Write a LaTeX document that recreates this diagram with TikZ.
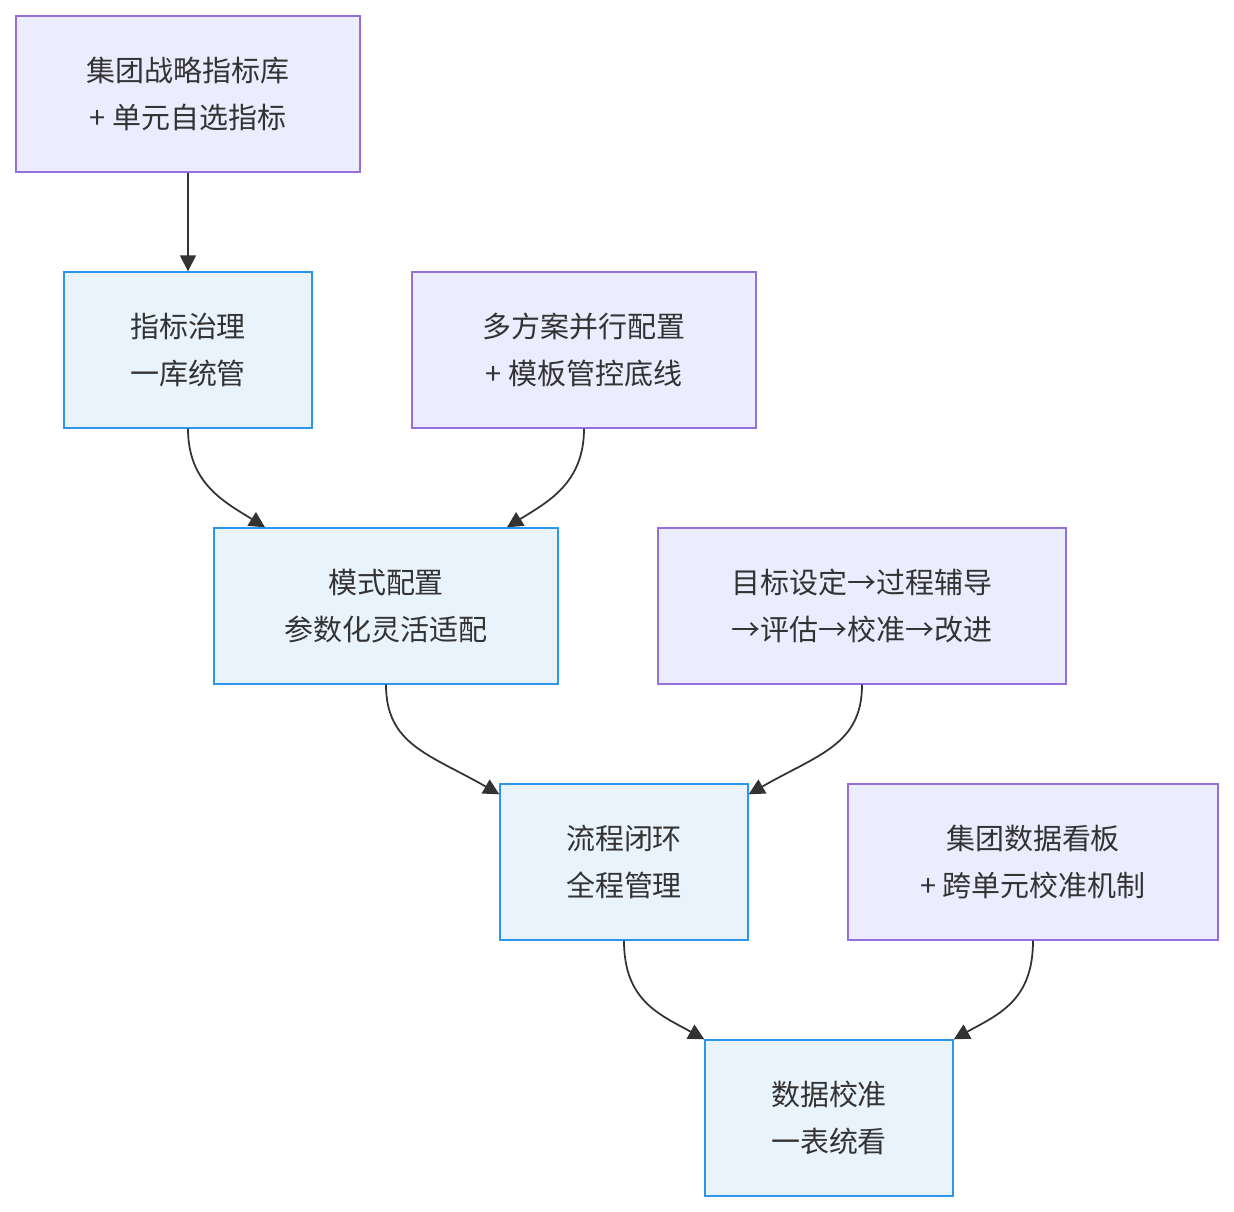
\documentclass[tikz,border=0pt]{standalone}
\usepackage{fontspec}
\setmainfont{Noto Sans CJK SC}
\usetikzlibrary{arrows.meta,positioning}
\definecolor{lilacfill}{HTML}{ECECFF}
\definecolor{lilacline}{HTML}{9370DB}
\definecolor{skyfill}{HTML}{E8F3FC}
\definecolor{skyline}{HTML}{2C96EC}
\definecolor{inkgrey}{HTML}{333333}

\tikzset{
	box/.style={draw,line width=0.8pt,minimum height=3.12cm,align=center,
		text=inkgrey,font=\fontsize{16.5}{27}\selectfont,inner sep=0pt},
	source/.style={box,fill=lilacfill,draw=lilacline},
	stage/.style={box,fill=skyfill,draw=skyline},
	flow/.style={draw=inkgrey,line width=1pt,-{Triangle[length=9pt,width=9pt]}}
}

\begin{document}
\begin{tikzpicture}[x=0.02cm,y=-0.02cm]
	\useasboundingbox (0,0) rectangle (1234,1212);
	% Nodes
	\node[source,minimum width=6.88cm] (lib) at (188,94) {集团战略指标库\\+ 单元自选指标};
	\node[stage,minimum width=4.96cm] (gov) at (188,350) {指标治理\\一库统管};
	\node[source,minimum width=6.88cm] (multi) at (584,350) {多方案并行配置\\+ 模板管控底线};
	\node[stage,minimum width=6.88cm] (mode) at (386,606) {模式配置\\参数化灵活适配};
	\node[source,minimum width=8.16cm] (cycle) at (862,606) {目标设定→过程辅导\\→评估→校准→改进};
	\node[stage,minimum width=4.96cm] (proc) at (624,862) {流程闭环\\全程管理};
	\node[source,minimum width=7.4cm] (board) at (1033,862) {集团数据看板\\+ 跨单元校准机制};
	\node[stage,minimum width=4.96cm] (data) at (829,1118) {数据校准\\一表统看};

	% Connectors
	\draw[flow] (lib) -- (gov);
	\draw[flow] (gov.south) .. controls +(0,55) and +(-40,-25) .. ([xshift=-2.42cm]mode.north);
	\draw[flow] (multi.south) .. controls +(0,55) and +(40,-25) .. ([xshift=2.42cm]mode.north);
	\draw[flow] (mode.south) .. controls +(0,60) and +(-70,-40) .. ([yshift=-0.22cm]proc.north west);
	\draw[flow] (cycle.south) .. controls +(0,60) and +(70,-40) .. ([yshift=-0.22cm]proc.north east);
	\draw[flow] (proc.south) .. controls +(0,60) and +(-45,-25) .. (data.north west);
	\draw[flow] (board.south) .. controls +(0,60) and +(45,-25) .. (data.north east);
\end{tikzpicture}
\end{document}
